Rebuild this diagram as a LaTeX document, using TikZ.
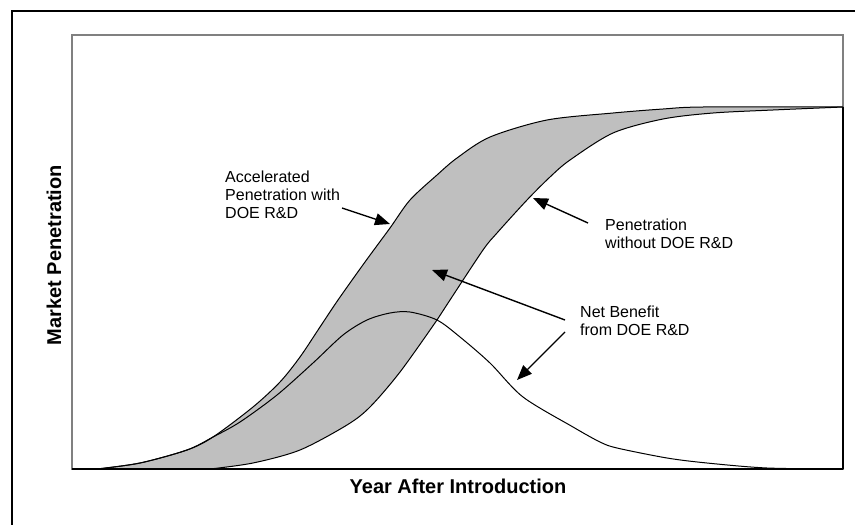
\documentclass[tikz,border=0pt]{standalone}
\usepackage{fontspec}
\setmainfont{Liberation Sans}
\usetikzlibrary{arrows.meta}

\begin{document}
\begin{tikzpicture}[
  x=1pt, y=-1pt,
  frame/.style={draw=black, line width=2pt},
  plotarea/.style={draw=gray!100!black, line width=1.3pt},
  axisline/.style={draw=black, line width=1.6pt},
  band/.style={fill=black!25},
  curve/.style={draw=black, line width=1pt},
  note/.style={font=\fontsize{16}{18}\selectfont, align=left, anchor=west, inner sep=0pt},
  atitle/.style={font=\fontsize{20}{22}\selectfont\bfseries, inner sep=0pt},
  pointer/.style={-{Triangle[length=15pt, width=12pt]}, line width=1.4pt},
]
\useasboundingbox (0,0) rectangle (855,525);

% --- outer frame and plot area ---
\draw[frame] (12,530) -- (12,11) -- (860,11);
\draw[plotarea] (72,35) rectangle (843,469);

% --- shaded gap between the two penetration curves ---
\fill[band] plot[smooth, tension=0.5] coordinates {
  (97,469) (140,463) (187,450) (213,437) (253,407) (280,382) (300,357)
  (320,327) (338,300) (365,262) (390,228) (410,200) (437,175) (457,158)
  (490,137) (547,120) (613,113) (663,109) (703,107) (843,107)}
  -- plot[smooth, tension=0.5] coordinates {
  (843,107) (773,110) (713,113) (663,119) (613,133) (570,160) (550,177)
  (527,200) (497,233) (483,250) (450,300) (437,320) (400,372) (370,407)
  (347,425) (300,450) (253,463) (210,469)} -- cycle;

% --- with DOE R&D ---
\draw[curve] plot[smooth, tension=0.5] coordinates {
  (97,469) (140,463) (187,450) (213,437) (253,407) (280,382) (300,357)
  (320,327) (338,300) (365,262) (390,228) (410,200) (437,175) (457,158)
  (490,137) (547,120) (613,113) (663,109) (703,107) (843,107)};

% --- without DOE R&D ---
\draw[curve] plot[smooth, tension=0.5] coordinates {
  (210,469) (253,463) (300,450) (347,425) (370,407) (400,372) (437,320)
  (450,300) (483,250) (497,233) (527,200) (550,177) (570,160) (613,133)
  (663,119) (713,113) (773,110) (843,107)};

% --- net benefit ---
\draw[curve] plot[smooth, tension=0.5] coordinates {
  (97,469) (140,463) (187,450) (213,437) (240,422) (277,395) (313,363)
  (343,335) (367,320) (390,313) (410,312) (437,320) (460,337) (490,363)
  (523,397) (573,427) (600,442) (617,448) (667,458) (707,463) (767,468)
  (843,469)};

% --- axes ---
\draw[axisline] (72,469) -- (843,469);
\draw[axisline] (843,107) -- (843,469);

\node[atitle] (xlab) at (458,486) {Year After Introduction};
\node[atitle, rotate=90] (ylab) at (54,255) {Market Penetration};

% --- labels ---
\node[note] (acc) at (225,195) {Accelerated\\Penetration with\\DOE R\&D};
\node[note] (wo) at (605,234) {Penetration\\without DOE R\&D};
\node[note] (net) at (580,321) {Net Benefit\\from DOE R\&D};

\coordinate (acctail) at (342,208);
\coordinate (acctip) at (390,224);
\coordinate (wotail) at (588,223);
\coordinate (wotip) at (533,198);
\coordinate (nettailA) at (565,320);
\coordinate (nettipA) at (432,270);
\coordinate (nettailB) at (565,332);
\coordinate (nettipB) at (517,380);

\draw[pointer] (acctail) -- (acctip);
\draw[pointer] (wotail) -- (wotip);
\draw[pointer] (nettailA) -- (nettipA);
\draw[pointer] (nettailB) -- (nettipB);

\end{tikzpicture}
\end{document}
